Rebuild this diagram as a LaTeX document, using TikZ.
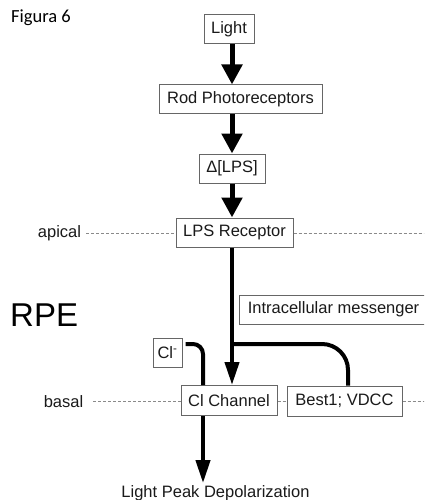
\documentclass[tikz,border=0pt]{standalone}
\usepackage{fontspec}
\setmainfont{Liberation Sans}
\newfontfamily\calibrifont{Carlito}
\usetikzlibrary{arrows.meta}
\definecolor{boxline}{HTML}{666666}
\definecolor{txt}{HTML}{1A1A1A}
\definecolor{dashc}{HTML}{8A8A8A}
\begin{document}
\begin{tikzpicture}[x=1pt,y=-1pt,
  box/.style={draw=boxline,line width=1pt,fill=white,text=txt,inner sep=0pt,
    minimum height=29pt,font=\fontsize{16.5}{19}\selectfont},
  lbl/.style={text=txt,inner sep=1pt,font=\fontsize{16.5}{19}\selectfont},
  bigarrow/.style={line width=5pt,-{Triangle[width=20pt,length=20pt]}},
  thinarrow/.style={line width=4pt,-{Triangle[width=14pt,length=23pt]}},
  conn/.style={line width=4pt},
  membrane/.style={draw=dashc,line width=0.8pt,dash pattern=on 3pt off 2pt}]
\useasboundingbox (0,0) rectangle (424,500);
\clip (0,0) rectangle (424,500);
\fill[white] (0,0) rectangle (424,500);

% texts
\node[anchor=west,inner sep=0pt,font=\calibrifont\fontsize{18.5}{22}\selectfont] (fig) at (11,18) {Figura 6};
\node[anchor=west,inner sep=0pt,text=black,font=\fontsize{33}{40}\selectfont] (rpe) at (10,315) {RPE};
\node[lbl] (apical) at (59.5,233) {apical};
\node[lbl] (basal) at (63.5,402) {basal};

% boxes
\node[box,minimum width=50pt] (light) at (229,29.5) {Light};
\node[box,minimum width=163pt] (rod) at (240.5,99.5) {Rod Photoreceptors};
\node[box,minimum width=66pt] (lps) at (232,168.5) {Δ[LPS]};
\node[box,minimum width=117pt] (rec) at (234.5,232.5) {LPS Receptor};
\node[box,minimum width=189pt] (msg) at (333.5,309.5) {Intracellular messenger};
\node[box,minimum width=29pt,minimum height=29pt] (clm) at (167.5,352.5) {Cl\textsuperscript{-}};
\node[box,minimum width=96pt,minimum height=30pt] (clc) at (229,400.5) {Cl Channel};
\node[box,minimum width=115pt,minimum height=30pt] (best) at (344.5,401) {Best1; VDCC};
\node[lbl] (lpd) at (215.5,493) {Light Peak Depolarization};

% membrane lines
\coordinate (apL) at (86,233);
\coordinate (apR) at (430,233);
\coordinate (baL) at (93,401);
\coordinate (baR) at (430,401);
\draw[membrane] (apL) -- (apL -| rec.west);
\draw[membrane] (apR -| rec.east) -- (apR);
\draw[membrane] (baL) -- (baL -| clc.west);
\draw[membrane] (baL -| clc.east) -- (baL -| best.west);
\draw[membrane] (baR -| best.east) -- (baR);

% main axis
\coordinate (ax) at (232,0);
\draw[bigarrow] (ax |- light.south) -- (ax |- rod.north);
\draw[bigarrow] (ax |- rod.south) -- (ax |- lps.north);
\draw[bigarrow] (ax |- lps.south) -- (ax |- rec.north);
\draw[thinarrow] (ax |- rec.south) -- (ax |- clc.north);

% branch to Best1
\coordinate (br) at (232,344);
\coordinate (bx) at (348,0);
\draw[conn,rounded corners=26pt] (br) -| (bx |- best.north);

% chloride path
\coordinate (clx) at (203,0);
\draw[conn,rounded corners=10pt] ([xshift=3pt,yshift=8.5pt]clm.east) -| (clx |- clc.north);
\draw[thinarrow,shorten >=1pt] (clx |- clc.south) -- (clx |- lpd.north);
\end{tikzpicture}
\end{document}
